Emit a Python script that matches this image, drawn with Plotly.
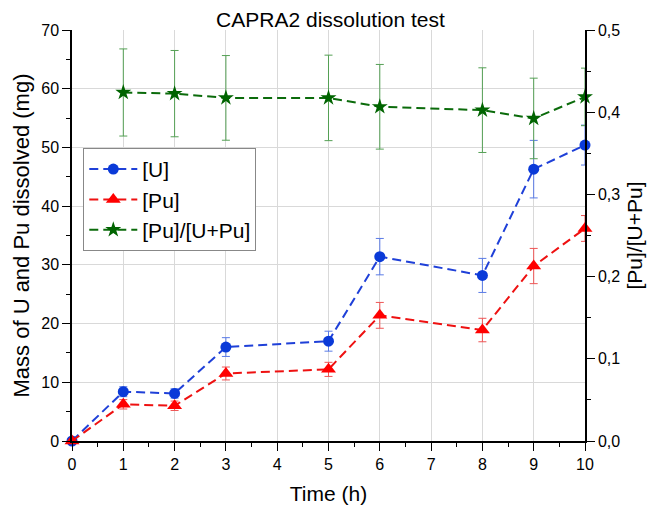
import plotly.graph_objects as go

time_u = [0, 1, 2, 3, 5, 6, 8, 9, 10]
u_mass = [0, 8.4, 8.1, 16.0, 17.0, 31.4, 28.2, 46.3, 50.4]
u_err = [0, 0.85, 0.8, 1.6, 1.7, 3.1, 2.9, 4.9, 3.4]
pu_mass = [0, 6.25, 6.0, 11.5, 12.2, 21.4, 18.9, 29.8, 36.2]
pu_err = [0, 0.8, 0.8, 1.1, 1.2, 2.2, 2.0, 3.0, 2.2]
time_r = [1, 2, 3, 5, 6, 8, 9, 10]
ratio = [0.424, 0.4226, 0.4174, 0.4174, 0.4066, 0.4025, 0.3924, 0.4186]
ratio_err = [0.053, 0.0525, 0.0515, 0.052, 0.0515, 0.0515, 0.049, 0.035]

FONT = "Arial, Liberation Sans, sans-serif"
DASH = "9px,5px"

fig = go.Figure()
fig.add_trace(go.Scatter(
    x=time_u, y=u_mass, name="[U]", mode="lines+markers",
    line=dict(color="#1f40d8", width=2, dash=DASH),
    marker=dict(symbol="circle", size=11, color="#0a3ad8"),
    error_y=dict(type="data", array=u_err, color="#5a7be6", thickness=1, width=4),
    cliponaxis=False))
fig.add_trace(go.Scatter(
    x=time_u, y=pu_mass, name="[Pu]", mode="lines+markers",
    line=dict(color="#ee1111", width=2, dash=DASH),
    marker=dict(symbol="triangle-up", size=13, color="#ff0000"),
    error_y=dict(type="data", array=pu_err, color="#ee5555", thickness=1, width=4),
    cliponaxis=False))
fig.add_trace(go.Scatter(
    x=time_r, y=ratio, name="[Pu]/[U+Pu]", mode="lines+markers", yaxis="y2",
    line=dict(color="#0b6b0b", width=2, dash=DASH),
    marker=dict(symbol="star", size=12, color="#006400"),
    error_y=dict(type="data", array=ratio_err, color="#55a055", thickness=1, width=4),
    cliponaxis=False))

fig.update_layout(
    width=661, height=505,
    margin=dict(l=72, r=76, t=30, b=64, autoexpand=False),
    paper_bgcolor="white", plot_bgcolor="white",
    separators=", ",
    font=dict(family=FONT, size=16, color="black"),
    title=dict(text="CAPRA2 dissolution test", x=0.5, xanchor="center",
               y=1 - 20 / 505, yref="container", yanchor="middle",
               font=dict(family=FONT, size=21, color="black")),
    showlegend=True,
    legend=dict(x=0.022, y=0.713, xanchor="left", yanchor="top",
                bgcolor="white", bordercolor="#888888", borderwidth=1,
                font=dict(family=FONT, size=21, color="black"),
                itemwidth=48, tracegroupgap=0),
    xaxis=dict(range=[0, 10], dtick=1, tick0=0, showline=True, linecolor="black",
               linewidth=1.5, ticks="outside", ticklen=8, tickcolor="black",
               showgrid=True, gridcolor="#d9d9d9", gridwidth=1, zeroline=False,
               automargin=False,
               minor=dict(ticks="outside", dtick=0.5, ticklen=4, tickcolor="black", showgrid=False),
               title=dict(text="Time (h)", font=dict(family=FONT, size=21), standoff=14),
               tickfont=dict(size=16)),
    yaxis=dict(range=[0, 70], dtick=10, tick0=0, showline=True, linecolor="black",
               linewidth=1.5, ticks="outside", ticklen=8, tickcolor="black",
               showgrid=True, gridcolor="#d9d9d9", gridwidth=1, zeroline=False,
               automargin=False,
               minor=dict(ticks="outside", dtick=5, ticklen=4, tickcolor="black", showgrid=False),
               title=dict(text="Mass of U and Pu dissolved (mg)", font=dict(family=FONT, size=22), standoff=6),
               tickfont=dict(size=16)),
    yaxis2=dict(range=[0, 0.5], dtick=0.1, tick0=0, tickformat=".1f", overlaying="y",
                side="right", showline=True, linecolor="black", linewidth=1.5,
                ticks="outside", ticklen=8, tickcolor="black", showgrid=False, zeroline=False,
                automargin=False,
                minor=dict(ticks="outside", dtick=0.05, ticklen=4, tickcolor="black"),
                title=dict(text="[Pu]/[U+Pu]", font=dict(family=FONT, size=21), standoff=8),
                tickfont=dict(size=16)),
)

fig.write_html("out.html")
